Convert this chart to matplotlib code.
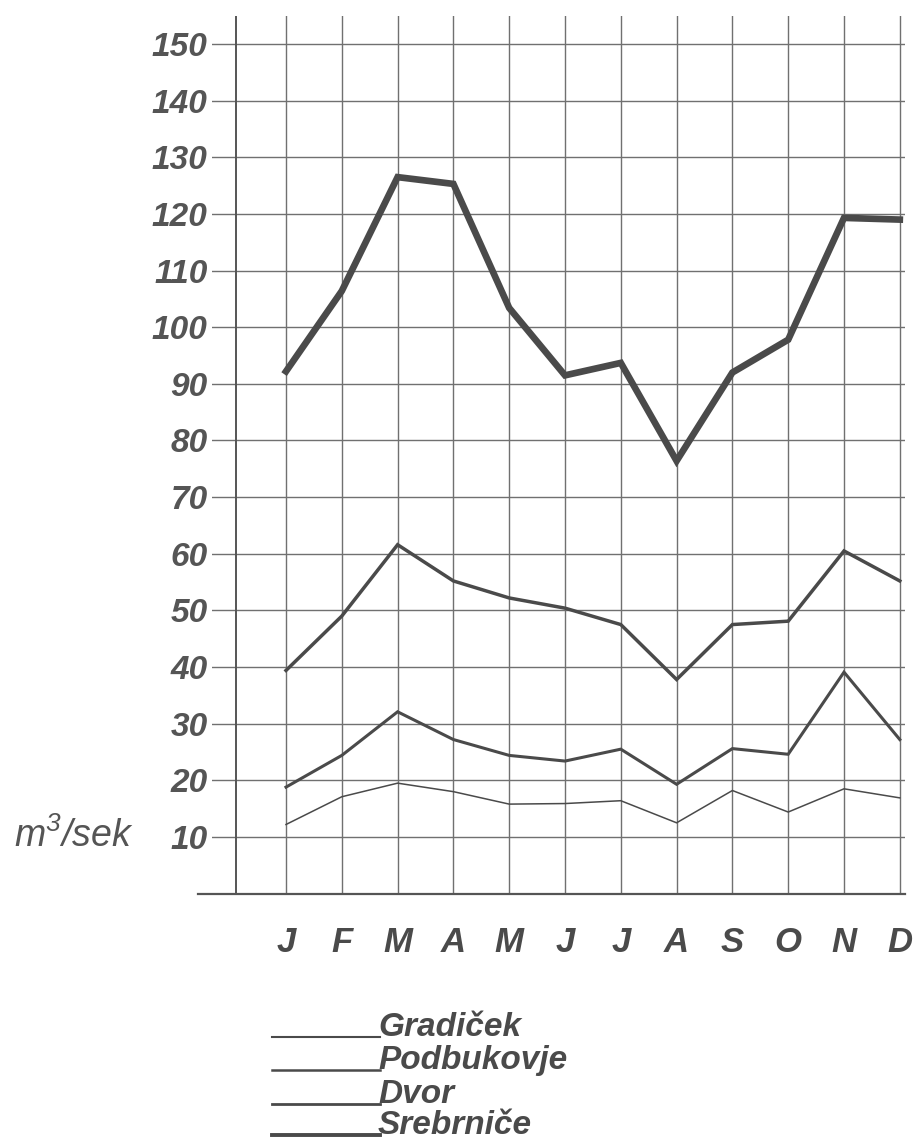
import numpy as np
import matplotlib
matplotlib.use("Agg")
import matplotlib.pyplot as plt

plt.rcParams['font.family'] = ['Liberation Sans', 'DejaVu Sans']
plt.rcParams['mathtext.fontset'] = 'custom'
plt.rcParams['mathtext.rm'] = 'Liberation Sans:italic'
plt.rcParams['mathtext.it'] = 'Liberation Sans:italic'

# podaci ocitani sa slike (m3/sek)
months = ['J', 'F', 'M', 'A', 'M', 'J', 'J', 'A', 'S', 'O', 'N', 'D']
gradicek = [12.2, 17.1, 19.5, 18.0, 15.8, 15.9, 16.4, 12.5, 18.2, 14.4, 18.5, 16.9]
podbukovje = [18.8, 24.4, 32.1, 27.2, 24.4, 23.4, 25.5, 19.3, 25.6, 24.6, 39.1, 27.2]
dvor = [39.4, 49.0, 61.6, 55.2, 52.2, 50.4, 47.5, 37.8, 47.5, 48.1, 60.5, 55.2]
srebrnice = [92.2, 106.4, 126.5, 125.3, 103.4, 91.5, 93.7, 76.4, 92.0, 97.8, 119.3, 119.0]
names = ['Gradiček', 'Podbukovje', 'Dvor', 'Srebrniče']
yticks = list(range(10, 151, 10))

ink = '#4a4a4a'
grid_c = '#707070'

W, H = 913, 1139
fig = plt.figure(figsize=(W / 100, H / 100), dpi=100)
fig.patch.set_facecolor('white')

# osi u pikselima: J na x=286, 55.8 px po mjesecu; 0 na y=893.6, 5.664 px po jedinici
x0, dx = 286, 55.8
left_px, right_px = 212, 905
bot_px, top_px = 893.6, 15.7
ax = fig.add_axes([left_px / W, (H - bot_px) / H, (right_px - left_px) / W, (bot_px - top_px) / H])
x = np.arange(len(months))
ax.set_xlim((left_px - x0) / dx, (right_px - x0) / dx)
ax.set_ylim(0, 155)

for s in ax.spines.values():
    s.set_visible(False)

# mreza
for yv in yticks:
    ax.axhline(yv, color=grid_c, lw=1.0, zorder=1)
for xv in x:
    ax.axvline(xv, color=grid_c, lw=1.0, zorder=1)
ax.axvline((236 - x0) / dx, color='#555555', lw=1.4, zorder=1)
ax.plot([-0.02, 1], [0, 0], transform=ax.get_yaxis_transform(), color='#555555',
        lw=1.6, clip_on=False, zorder=1)

series = [gradicek, podbukovje, dvor, srebrnice]
widths = [1.1, 2.2, 2.5, 4.8]
for vals, lw in zip(series, widths):
    ax.plot(x, vals, color=ink, lw=lw, solid_joinstyle='miter', zorder=3)

ax.set_yticks(yticks)
ax.set_yticklabels([str(v) for v in yticks], fontsize=24, fontstyle='italic',
                   fontweight='bold', color='#555555')
ax.set_xticks(x)
ax.set_xticklabels(months, fontsize=25, fontstyle='italic', fontweight='bold', color=ink)
ax.tick_params(axis='y', length=0, pad=3)
ax.tick_params(axis='x', length=0, pad=23)

fig.text(134 / W, 1 - 836 / H, r'm$^{3}$/sek', fontsize=27, fontstyle='italic',
         color='#555555', ha='right', va='center')

# legenda
lax = fig.add_axes([0, 0, 1, 1])
lax.set_xlim(0, W)
lax.set_ylim(H, 0)
lax.axis('off')
leg_y = [1037, 1070, 1104, 1135]
leg_lw = [1.5, 1.8, 2.0, 2.8]
for name, yy, lw in zip(names, leg_y, leg_lw):
    lax.plot([272, 380], [yy, yy], color=ink, lw=lw)
    lax.text(378, yy - 1, name, fontsize=24, fontstyle='italic', fontweight='bold',
             color=ink, ha='left', va='baseline')

fig.savefig('out.png', dpi=100, facecolor='white')
